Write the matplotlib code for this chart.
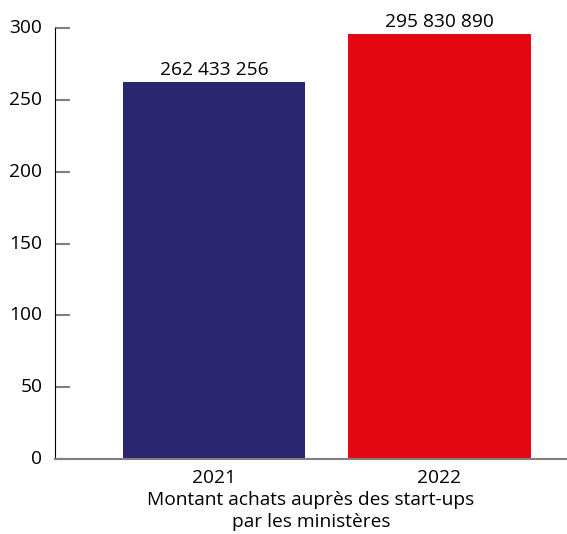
import matplotlib
matplotlib.use("Agg")
import matplotlib.pyplot as plt

plt.rcParams['font.family'] = ['Open Sans', 'DejaVu Sans']

# montants en euros par année
annees = ["2021", "2022"]
montants = [262433256, 295830890]
couleurs = ["#2a2770", "#e30613"]
yticks = [0, 50, 100, 150, 200, 250, 300]

fs = 13.8

fig = plt.figure(figsize=(5.67, 5.34), dpi=100)
ax = fig.add_axes([0.097, 0.1404, 0.903, 0.8072])

valeurs_m = [m / 1e6 for m in montants]
pos = range(len(annees))
bars = ax.bar(pos, valeurs_m, width=0.81, color=couleurs)

for b, m in zip(bars, montants):
    etiquette = f"{m:,}".replace(",", " ")
    ax.text(b.get_x() + b.get_width() / 2, b.get_height() + 2.0, etiquette,
            ha="center", va="bottom", fontsize=fs)

ax.set_xlim(-0.707, 1.567)
ax.set_ylim(0, 300)
ax.set_yticks(yticks)
ax.set_yticklabels([str(t) for t in yticks], fontsize=fs, va="center")
ax.set_xticks(list(pos))
ax.set_xticklabels(annees, fontsize=fs)
ax.tick_params(axis="y", direction="in", length=11, width=1.5, color="#808080", pad=9)
ax.tick_params(axis="x", length=0, pad=7)
ax.set_xlabel("Montant achats auprès des start-ups\npar les ministères",
              fontsize=fs, labelpad=3, linespacing=1.3)

ax.spines["top"].set_visible(False)
ax.spines["right"].set_visible(False)
ax.spines["left"].set_color("black")
ax.spines["bottom"].set_color("#808080")
ax.spines["bottom"].set_linewidth(1.5)

fig.savefig("out.png", dpi=100)
